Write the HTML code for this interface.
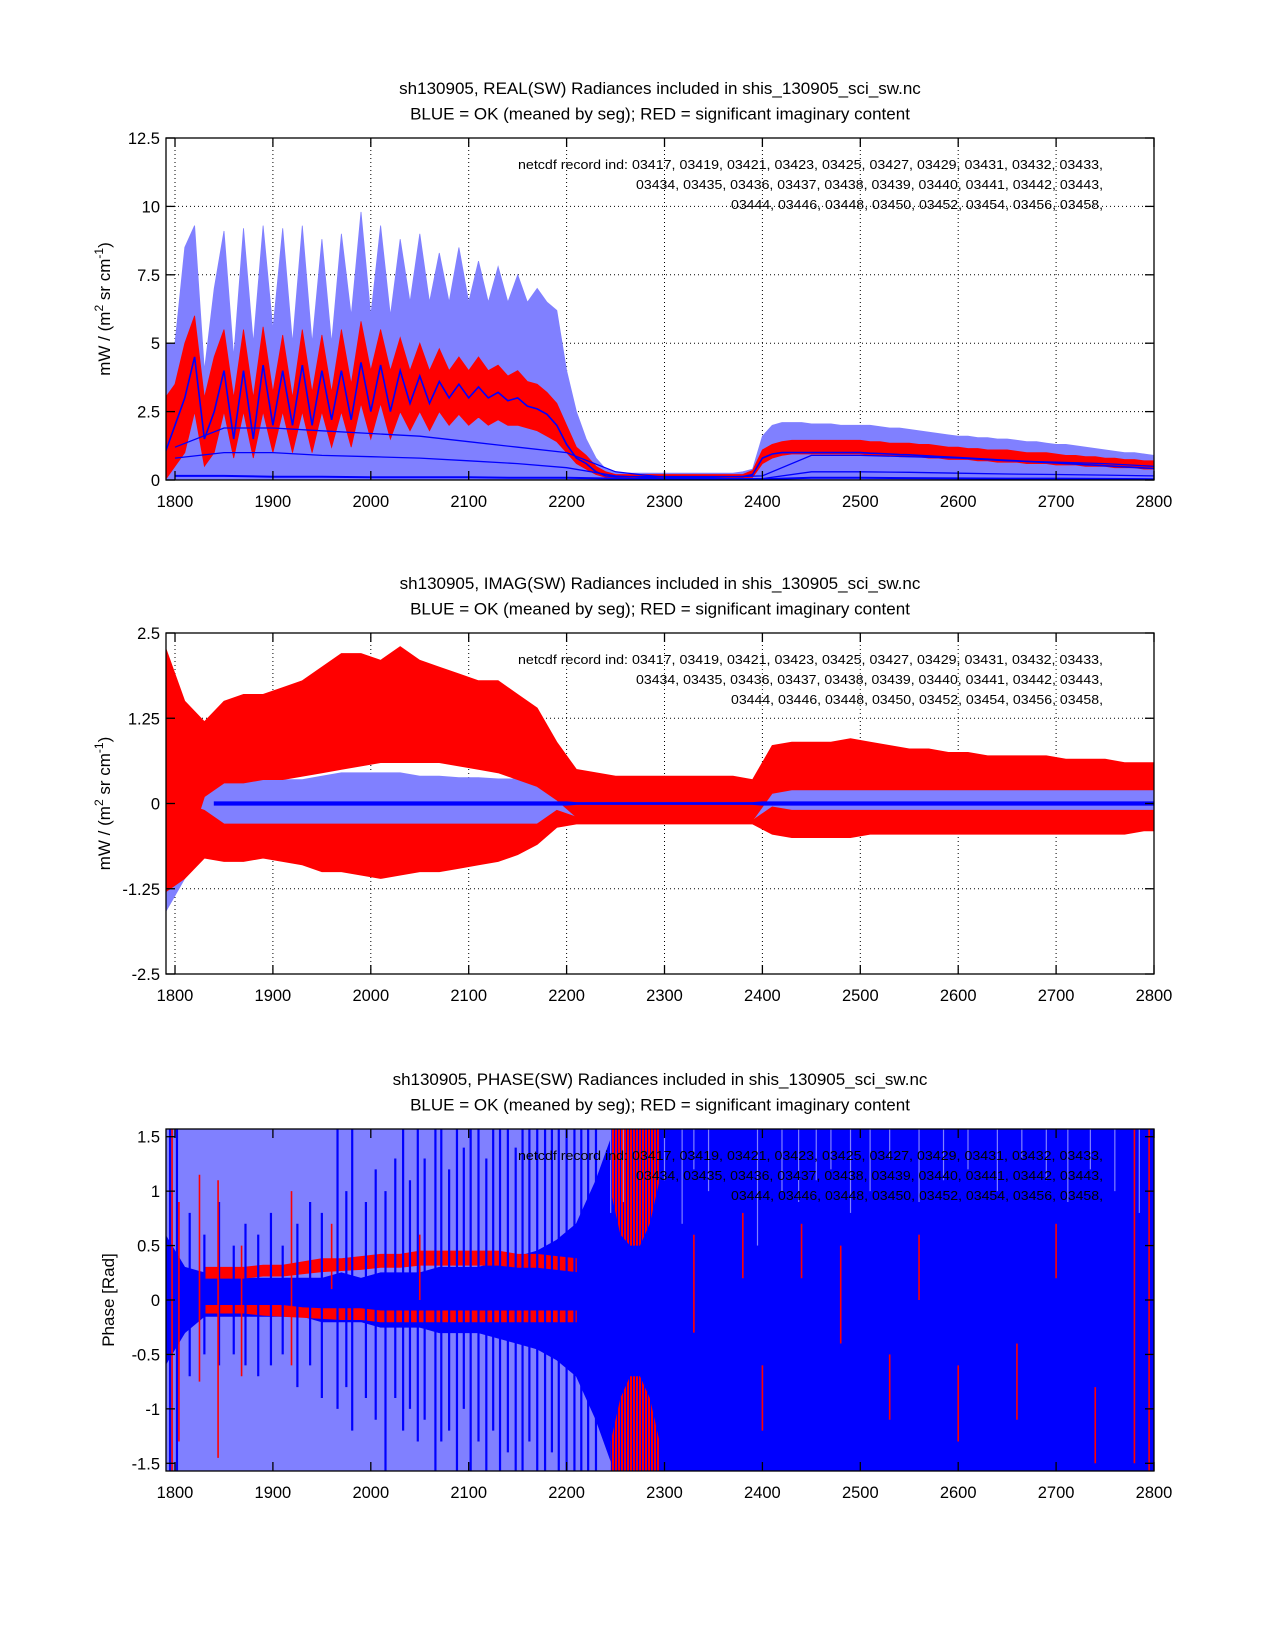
<!DOCTYPE html>
<html><head><meta charset="utf-8"><title>SW radiances</title>
<style>
html,body{margin:0;padding:0;background:#fff;}
svg{display:block;font-family:"Liberation Sans",Arial,sans-serif;}
</style></head>
<body>
<svg id="fig" width="1275" height="1650" viewBox="0 0 1275 1650" xmlns="http://www.w3.org/2000/svg">
<defs>
<pattern id="rbStripe" patternUnits="userSpaceOnUse" width="3" height="10">
<rect x="0" y="0" width="2" height="10" fill="#ff0000"/>
<rect x="2" y="0" width="1" height="10" fill="#0000ff"/>
</pattern>
</defs>
<rect x="0" y="0" width="1275" height="1650" fill="#fff"/>
</svg>
<script>
const wnStart = 1790, wnStep = 10;
const wnBStart = 1790, wnBStep = 20;
const xTicks = [1800,1900,2000,2100,2200,2300,2400,2500,2600,2700,2800];
const xTickLabels = ['1800','1900','2000','2100','2200','2300','2400','2500','2600','2700','2800'];
const recordLines = [
 'netcdf record ind:  03417, 03419, 03421, 03423, 03425, 03427, 03429, 03431, 03432, 03433,',
 '03434, 03435, 03436, 03437, 03438, 03439, 03440, 03441, 03442, 03443,',
 '03444, 03446, 03448, 03450, 03452, 03454, 03456, 03458,'
];

const p1Ticks = [0,2.5,5,7.5,10,12.5];
const p1TickLabels = ['0','2.5','5','7.5','10','12.5'];
const p1_lbHi = [5,5,8.5,9.3,4,7,9.1,4.5,9.2,5,9.3,5.5,9.2,5,9.3,5,8.8,5,9,6,9.8,6,9.3,6,8.8,6.5,9,6.5,8.3,6.5,8.5,6.5,8,6.5,7.8,6.5,7.5,6.5,7,6.5,6.2,4,2.5,1.5,0.8,0.4,
 0.3,0.25,0.25,0.25,0.25,0.25,0.25,0.25,0.25,0.25,0.25,0.25,0.25,0.3,
 0.4,
 1.6,2.0,2.1,2.1,2.1,2.05,2.05,2.05,2.0,2.0,2.0,2.0,1.95,1.9,1.9,1.85,1.8,1.75,1.7,1.65,1.6,1.6,1.55,1.55,1.5,1.5,1.45,1.4,1.4,1.35,1.3,1.3,1.25,1.2,1.15,1.1,1.05,1.0,1.0,0.95,0.9];
const p1_redHi = [3,3.5,5,6,3,4.5,5.5,3,5.5,3,5.6,3.2,5.3,3,5.5,3.2,5.3,3.2,5.5,3.5,5.8,4,5.5,4,5.2,4,5,4,4.8,4,4.5,4,4.5,4,4.2,3.8,4,3.6,3.5,3.2,2.8,2,1.2,0.9,0.5,0.3,
 0.2,0.2,0.2,0.2,0.2,0.2,0.2,0.2,0.2,0.2,0.2,0.2,0.2,0.2,
 0.35,
 1.1,1.3,1.4,1.45,1.45,1.45,1.45,1.45,1.45,1.45,1.45,1.4,1.4,1.35,1.35,1.35,1.3,1.3,1.25,1.2,1.2,1.15,1.15,1.1,1.1,1.1,1.05,1.0,1.0,1.0,0.95,0.9,0.9,0.85,0.85,0.8,0.8,0.75,0.75,0.7,0.7];
const p1_redLo = [0,0.5,1,2.5,0.5,1,2.5,0.8,2.5,0.8,2.5,1,2.5,1,2.5,1,2.5,1.2,2.5,1.2,2.8,1.5,2.8,1.5,2.5,1.8,2.5,1.8,2.5,2,2.4,2,2.3,2,2.2,2,2,1.9,1.8,1.6,1.4,1.0,0.6,0.4,0.2,0.1,
 0.08,0.08,0.08,0.08,0.08,0.08,0.08,0.08,0.08,0.08,0.08,0.08,0.08,0.08,
 0.1,
 0.6,0.8,0.9,0.95,0.95,0.95,0.95,0.95,0.95,0.95,0.95,0.9,0.9,0.9,0.85,0.85,0.85,0.8,0.8,0.75,0.75,0.75,0.7,0.7,0.65,0.65,0.65,0.6,0.6,0.6,0.55,0.55,0.55,0.5,0.5,0.5,0.45,0.45,0.45,0.4,0.4];
const p1_b1 = [1,2,3,4.5,1.5,2.5,4,1.5,4,1.5,4.2,2,4,2,4.2,2,4,2.2,4,2.2,4.3,2.5,4.2,2.5,4,2.8,3.8,2.8,3.6,3,3.5,3,3.4,3,3.2,2.9,3,2.7,2.6,2.4,2,1.3,0.8,0.6,0.3,0.15,
 0.12,0.12,0.12,0.12,0.12,0.12,0.12,0.12,0.12,0.12,0.12,0.12,0.12,0.12,
 0.2,
 0.8,0.95,1.0,1.0,1.0,1.0,1.0,1.0,1.0,1.0,1.0,0.98,0.97,0.95,0.93,0.92,0.9,0.88,0.86,0.84,0.82,0.8,0.78,0.76,0.74,0.72,0.7,0.68,0.66,0.64,0.62,0.6,0.58,0.56,0.54,0.52,0.5,0.48,0.46,0.44,0.42];
const wnS = [1800,1850,1900,1950,2000,2050,2100,2150,2200,2250,2300,2350,2400,2450,2500,2550,2600,2650,2700,2750,2800];
const p1_b2 = [1.2,1.9,1.9,1.8,1.7,1.6,1.4,1.2,1.0,0.3,0.1,0.1,0.15,0.9,0.9,0.85,0.8,0.7,0.65,0.6,0.5];
const p1_b3 = [0.8,1.0,1.0,0.9,0.85,0.8,0.7,0.6,0.45,0.15,0.05,0.05,0.05,0.3,0.3,0.28,0.25,0.22,0.2,0.18,0.15];
const p1_b4 = [0.15,0.15,0.12,0.12,0.1,0.1,0.1,0.08,0.08,0.05,0.03,0.03,0.03,0.08,0.08,0.07,0.06,0.05,0.05,0.04,0.03];

const p2Ticks = [-2.5,-1.25,0,1.25,2.5];
const p2TickLabels = ['-2.5','-1.25','0','1.25','2.5'];
const p2_lbHi = [1.0,0.5,0.4,0.35,0.35,0.35,0.35,0.35,0.4,0.45,0.45,0.45,0.45,0.4,0.4,0.38,0.38,0.36,0.36,0.35,0.35,0.3,
 0.2,0.2,0.2,0.2,0.2,0.2,0.2,0.2,0.2,
 0.4,0.4,0.4,0.4,0.4,0.4,0.4,0.4,0.4,0.4,0.4,0.4,0.4,0.4,0.4,0.4,0.4,0.4,0.4,0.4,0.4];
const p2_lbLo = [-1.6,-1.1,-0.5,-0.3,-0.3,-0.3,-0.3,-0.3,-0.35,-0.4,-0.4,-0.4,-0.4,-0.35,-0.35,-0.33,-0.33,-0.32,-0.32,-0.3,-0.3,-0.25,
 -0.2,-0.2,-0.2,-0.2,-0.2,-0.2,-0.2,-0.2,-0.2,
 -0.3,-0.3,-0.3,-0.3,-0.3,-0.3,-0.3,-0.3,-0.3,-0.3,-0.3,-0.3,-0.3,-0.3,-0.3,-0.3,-0.3,-0.3,-0.3,-0.3,-0.3];
const p2_ruHi = [2.3,1.5,1.2,1.5,1.6,1.6,1.7,1.8,2.0,2.2,2.2,2.1,2.3,2.1,2.0,1.9,1.8,1.8,1.6,1.4,0.9,0.5,
 0.45,0.4,0.4,0.4,0.4,0.4,0.4,0.4,0.35,
 0.85,0.9,0.9,0.9,0.95,0.9,0.85,0.8,0.8,0.75,0.75,0.7,0.7,0.7,0.7,0.65,0.65,0.65,0.6,0.6,0.6];
const p2_ruLo = [-1.0,-0.8,0.1,0.3,0.3,0.35,0.35,0.4,0.45,0.5,0.55,0.6,0.6,0.6,0.6,0.55,0.5,0.45,0.35,0.25,0.05,-0.2,
 -0.25,-0.25,-0.25,-0.25,-0.25,-0.25,-0.25,-0.25,-0.25,
 0.15,0.2,0.2,0.2,0.2,0.2,0.2,0.2,0.2,0.2,0.2,0.2,0.2,0.2,0.2,0.2,0.2,0.2,0.2,0.2,0.2];
const p2_rlHi = [0.5,0,-0.1,-0.3,-0.3,-0.3,-0.3,-0.3,-0.3,-0.3,-0.3,-0.3,-0.3,-0.3,-0.3,-0.3,-0.3,-0.3,-0.3,-0.3,-0.1,-0.2,
 -0.25,-0.25,-0.25,-0.25,-0.25,-0.25,-0.25,-0.25,-0.25,
 -0.05,-0.1,-0.1,-0.1,-0.1,-0.1,-0.1,-0.1,-0.1,-0.1,-0.1,-0.1,-0.1,-0.1,-0.1,-0.1,-0.1,-0.1,-0.1,-0.1,-0.1];
const p2_rlLo = [-1.3,-1.1,-0.8,-0.85,-0.85,-0.8,-0.85,-0.9,-1.0,-1.0,-1.05,-1.1,-1.05,-1.0,-1.0,-0.95,-0.9,-0.85,-0.75,-0.6,-0.35,-0.3,
 -0.3,-0.3,-0.3,-0.3,-0.3,-0.3,-0.3,-0.3,-0.3,
 -0.45,-0.5,-0.5,-0.5,-0.5,-0.45,-0.45,-0.45,-0.45,-0.45,-0.45,-0.45,-0.45,-0.45,-0.45,-0.45,-0.45,-0.45,-0.45,-0.4,-0.4];
const p2_blueWn = [1840,2200,2210,2390,2400,2800];
const p2_blueHi = [0.025,0.025,0.015,0.015,0.025,0.025];
const p2_blueLo = [-0.025,-0.025,-0.015,-0.015,-0.025,-0.025];

const p3Ticks = [-1.5,-1,-0.5,0,0.5,1,1.5];
const p3TickLabels = ['-1.5','-1','-0.5','0','0.5','1','1.5'];
const p3_bHi = [0.6,0.3,0.25,0.2,0.2,0.2,0.2,0.2,0.2,0.25,0.2,0.25,0.25,0.25,0.3,0.3,0.3,0.35,0.4,0.45,0.55,0.7,1.1,
 1.6,1.6,1.6,1.6,1.6,1.6,1.6,1.6,1.6,1.6,1.6,1.6,1.6,1.6,1.6,1.6,1.6,1.6,1.6,1.6,1.6,1.6,1.6,1.6,1.6,1.6,1.6,1.6,1.6];
const p3_bLo = [-0.6,-0.3,-0.15,-0.15,-0.15,-0.15,-0.15,-0.15,-0.2,-0.2,-0.2,-0.25,-0.25,-0.25,-0.3,-0.3,-0.3,-0.35,-0.4,-0.45,-0.55,-0.7,-1.1,
 -1.6,-1.6,-1.6,-1.6,-1.6,-1.6,-1.6,-1.6,-1.6,-1.6,-1.6,-1.6,-1.6,-1.6,-1.6,-1.6,-1.6,-1.6,-1.6,-1.6,-1.6,-1.6,-1.6,-1.6,-1.6,-1.6,-1.6,-1.6,-1.6];
const p3_redWn = [1830,1850,1870,1890,1910,1930,1950,1970,1990,2010,2030,2050,2070,2090,2110,2130,2150,2170,2190,2210];
const p3_redUHi = [0.3,0.3,0.3,0.32,0.32,0.35,0.38,0.38,0.4,0.42,0.42,0.45,0.45,0.45,0.45,0.45,0.42,0.42,0.4,0.38];
const p3_redULo = [0.2,0.2,0.2,0.22,0.22,0.24,0.26,0.27,0.28,0.3,0.3,0.32,0.32,0.32,0.32,0.32,0.3,0.3,0.28,0.26];
const p3_redLHi = [-0.05,-0.05,-0.05,-0.05,-0.05,-0.07,-0.08,-0.08,-0.08,-0.1,-0.1,-0.1,-0.1,-0.1,-0.1,-0.1,-0.1,-0.1,-0.1,-0.1];
const p3_redLLo = [-0.12,-0.12,-0.12,-0.14,-0.15,-0.16,-0.17,-0.18,-0.18,-0.2,-0.2,-0.2,-0.2,-0.2,-0.2,-0.2,-0.2,-0.2,-0.2,-0.2];
const p3_spkWn = [1795,1802,1815,1830,1845,1860,1872,1885,1898,1910,1925,1938,1950,1966,1975,1981,1995,2005,2015,2025,2033,2040,2048,2055,2066,2072,2080,2088,2095,2102,2110,2118,2125,2132,2140,2148,2155,2162,2170,2178,2185,2192,2200,2208,2215,2222,2230];
const p3_spkHi = [1.57,1.57,0.8,0.6,0.9,0.5,0.7,0.6,0.8,0.5,0.7,0.9,0.8,1.57,1.0,1.57,0.9,1.2,1.0,1.3,1.57,1.1,1.57,1.3,1.57,1.57,1.2,1.57,1.4,1.57,1.57,1.3,1.57,1.57,1.57,1.4,1.57,1.57,1.57,1.57,1.57,1.57,1.57,1.57,1.57,1.57,1.57];
const p3_spkLo = [-1.57,-1.57,-0.7,-0.5,-0.6,-0.5,-0.6,-0.7,-0.6,-0.5,-0.8,-0.6,-0.9,-1.0,-0.8,-1.2,-0.9,-1.1,-1.57,-0.9,-1.2,-1.0,-1.3,-1.1,-1.57,-1.3,-1.2,-1.57,-1.0,-1.57,-1.3,-1.57,-1.2,-1.57,-1.4,-1.57,-1.57,-1.3,-1.57,-1.57,-1.4,-1.57,-1.57,-1.57,-1.57,-1.57,-1.57];
const p3_redBandWn = [2245,2255,2265,2275,2285,2295];
const p3_redTopLo = [1.0,0.6,0.5,0.5,0.7,1.1];
const p3_redBotHi = [-1.3,-0.9,-0.7,-0.7,-0.9,-1.3];
const p3_rspWn = [1797,1804,1825,1844,1868,1919,1960,2050,2330,2380,2400,2440,2480,2530,2560,2600,2660,2700,2740,2780,2795];
const p3_rspHi = [1.57,0.9,1.15,1.1,0.5,1.0,0.7,0.6,0.6,0.8,-0.6,0.7,0.5,-0.5,0.6,-0.6,-0.4,0.7,-0.8,1.57,1.57];
const p3_rspLo = [-1.57,-1.3,-0.75,-1.45,-0.7,-0.6,0.1,0.0,-0.3,0.2,-1.2,0.2,-0.4,-1.1,0.0,-1.3,-1.1,0.2,-1.5,-1.5,-1.57];
const p3_lspWn = [2245,2258,2300,2318,2330,2345,2395,2420,2437,2455,2470,2490,2510,2530,2560,2585,2610,2640,2665,2690,2712,2735,2760,2785];
const p3_lspLo = [0.8,0.9,1.1,0.7,1.2,1.0,0.5,1.0,0.9,1.1,1.2,0.8,1.0,1.3,0.9,1.1,1.2,1.0,1.3,1.1,0.9,1.2,1.0,0.8];

const NS = 'http://www.w3.org/2000/svg';
const svg = document.getElementById('fig');
const X0 = 166, X1 = 1154, V0 = 1790.8, V1 = 2800;
function sx(v){ return X0 + (v - V0) * (X1 - X0) / (V1 - V0); }
function mk(tag, attrs, parent){
  const e = document.createElementNS(NS, tag);
  for (const k in attrs) e.setAttribute(k, attrs[k]);
  (parent || svg).appendChild(e);
  return e;
}
const LB = '#8080ff', BL = '#0000ff', RD = '#ff0000';

function band(g, wn, hi, lo, sy, color, strokeColor){
  const up = [], dn = [];
  for (let i = 0; i < wn.length; i++){
    up.push(sx(wn[i]).toFixed(1) + ',' + sy(hi[i]).toFixed(1));
    dn.unshift(sx(wn[i]).toFixed(1) + ',' + sy(lo[i]).toFixed(1));
  }
  return mk('polygon', {points: up.concat(dn).join(' '), fill: color, stroke: strokeColor || color, 'stroke-width': 0.8}, g);
}
function line(g, wn, vals, sy, color, w){
  const pts = wn.map((v,i)=> sx(v).toFixed(1)+','+sy(vals[i]).toFixed(1)).join(' ');
  return mk('polyline', {points: pts, fill: 'none', stroke: color, 'stroke-width': w}, g);
}
function seqWn(start, step, n){ const a=[]; for(let i=0;i<n;i++) a.push(start+i*step); return a; }

function axes(id, top, bot, ymin, ymax, ticks, tickLabels, title1, ylabelParts, drawData){
  const sy = v => bot - (v - ymin) * (bot - top) / (ymax - ymin);
  const g = mk('g', {});
  
  
  const cid = id + '-clip';
  const cp = mk('clipPath', {id: cid}, g);
  mk('rect', {x: X0, y: top, width: X1 - X0, height: bot - top}, cp);
  const grid = mk('g', {stroke: '#000', 'stroke-width': 1, 'stroke-dasharray': '1,3'}, g);
  
  
  xTicks.forEach(t => mk('line', {x1: sx(t), x2: sx(t), y1: top, y2: bot}, grid));
  ticks.forEach(t => mk('line', {x1: X0, x2: X1, y1: sy(t), y2: sy(t)}, grid));
  const dg = mk('g', {'clip-path': 'url(#' + cid + ')'}, g);
  
  
  drawData(dg, sy);
  const ag = mk('g', {'font-size': 13, fill: '#000'}, g);
  
  
  const starts = [518, 636, 731];
  recordLines.forEach((s, i) => {
    const t = mk('text', {x: starts[i], y: top + 31 + 20 * i, textLength: 1103 - starts[i], lengthAdjust: 'spacingAndGlyphs'}, ag);
    t.textContent = s;
  });
  const bx = mk('rect', {x: X0, y: top, width: X1 - X0, height: bot - top, fill: 'none', stroke: '#000', 'stroke-width': 1.3}, g);
  
  
  const tk = mk('g', {stroke: '#000', 'stroke-width': 1.3}, g);
  xTicks.forEach(t => { mk('line', {x1: sx(t), x2: sx(t), y1: bot, y2: bot - 9}, tk); mk('line', {x1: sx(t), x2: sx(t), y1: top, y2: top + 9}, tk); });
  ticks.forEach(t => { mk('line', {x1: X0, x2: X0 + 9, y1: sy(t), y2: sy(t)}, tk); mk('line', {x1: X1, x2: X1 - 9, y1: sy(t), y2: sy(t)}, tk); });
  const xl = mk('g', {'font-size': 16.5, 'text-anchor': 'middle'}, g);
  
  
  xTicks.forEach((t, i) => { const e = mk('text', {x: sx(t), y: bot + 27}, xl); e.textContent = xTickLabels[i]; });
  const yl = mk('g', {'font-size': 16.5, 'text-anchor': 'end'}, g);
  
  
  ticks.forEach((t, i) => { const e = mk('text', {x: 160, y: sy(t) + 6}, yl); e.textContent = tickLabels[i]; });
  const t1 = mk('text', {x: 660, y: top - 44, 'font-size': 17, 'text-anchor': 'middle'}, g);
  
  
  t1.textContent = title1;
  const t2 = mk('text', {x: 660, y: top - 18.5, 'font-size': 17, 'text-anchor': 'middle'}, g);
  
  
  t2.textContent = 'BLUE = OK (meaned by seg); RED = significant imaginary content';
  const cy = (top + bot) / 2;
  const ylab = mk('text', {x: 0, y: 0, 'font-size': 17, 'text-anchor': 'middle', transform: 'translate(' + (id === 'phase' ? 114 : 110) + ',' + cy + ') rotate(-90)'}, g);
  
  
  ylabelParts.forEach(p => {
    const ts = mk('tspan', p.sup ? {'baseline-shift': 'super', 'font-size': 12} : {}, ylab);
    ts.textContent = p.t;
  });
}

const wn = seqWn(wnStart, wnStep, p1_lbHi.length);
const wnB = seqWn(wnBStart, wnBStep, p2_lbHi.length);
const radLabel = [{t:'mW / (m'},{t:'2',sup:true},{t:' sr cm'},{t:'-1',sup:true},{t:')'}];

axes('real', 138, 480, 0, 12.5, p1Ticks, p1TickLabels,
  'sh130905, REAL(SW) Radiances included in shis_130905_sci_sw.nc', radLabel,
  (g, sy) => {
    const zero = wn.map(() => 0);
    const a = band(g, wn, p1_lbHi, zero, sy, LB);
     
    const r = band(g, wn, p1_redHi, p1_redLo, sy, RD);
     
    const l1 = line(g, wn, p1_b1, sy, BL, 1.6);
     
    const l2 = line(g, wnS, p1_b2, sy, BL, 1.3);
     
    const l3 = line(g, wnS, p1_b3, sy, BL, 1.3);
     
    const l4 = line(g, wnS, p1_b4, sy, BL, 2);
     
  });

axes('imag', 633, 974, -2.5, 2.5, p2Ticks, p2TickLabels,
  'sh130905, IMAG(SW) Radiances included in shis_130905_sci_sw.nc', radLabel,
  (g, sy) => {
    const a = band(g, wnB, p2_lbHi, p2_lbLo, sy, LB);
     
    const r1 = band(g, wnB, p2_ruHi, p2_ruLo, sy, RD);
     
    const r2 = band(g, wnB, p2_rlHi, p2_rlLo, sy, RD);
     
    const b = band(g, p2_blueWn, p2_blueHi, p2_blueLo, sy, BL);
     
  });

axes('phase', 1129, 1471, -1.5708, 1.5708, p3Ticks, p3TickLabels,
  'sh130905, PHASE(SW) Radiances included in shis_130905_sci_sw.nc', [{t:'Phase [Rad]'}],
  (g, sy) => {
    const bg = mk('rect', {x: X0, y: sy(1.5708), width: X1 - X0, height: sy(-1.5708) - sy(1.5708), fill: LB}, g);
     
    const b = band(g, wnB, p3_bHi, p3_bLo, sy, BL);
     
    const ru = band(g, p3_redWn, p3_redUHi, p3_redULo, sy, RD);
     
    const rl = band(g, p3_redWn, p3_redLHi, p3_redLLo, sy, RD);
     
    const top = p3_redBandWn.map(() => 1.6), bot = p3_redBandWn.map(() => -1.6);
    const rt = band(g, p3_redBandWn, top, p3_redTopLo, sy, 'url(#rbStripe)', 'none');
     
    const rb = band(g, p3_redBandWn, p3_redBotHi, bot, sy, 'url(#rbStripe)', 'none');
     
    p3_spkWn.forEach((v, i) => {
      const s = mk('line', {x1: sx(v), x2: sx(v), y1: sy(p3_spkHi[i]), y2: sy(p3_spkLo[i]), stroke: BL, 'stroke-width': 2.2}, g);
      
      
    });
    p3_rspWn.forEach((v, i) => {
      const s = mk('line', {x1: sx(v), x2: sx(v), y1: sy(p3_rspHi[i]), y2: sy(p3_rspLo[i]), stroke: RD, 'stroke-width': 1.6}, g);
      
      
    });
    p3_lspWn.forEach((v, i) => {
      const s = mk('line', {x1: sx(v), x2: sx(v), y1: sy(1.6), y2: sy(p3_lspLo[i]), stroke: LB, 'stroke-width': 1.2}, g);
      
      
    });
  });
</script>
</body></html>
